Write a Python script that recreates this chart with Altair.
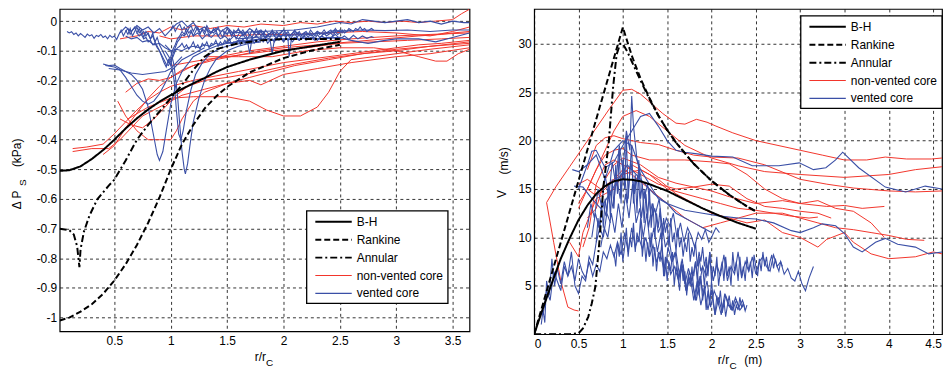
import altair as alt
import pandas as pd

FONT = "Liberation Sans"
RED = "#f2352b"
BLUE = "#3a4fa6"

# ---------------- LEFT PANEL (pressure deficit) ----------------
bh_l_x = [0.015, 0.1, 0.2, 0.3, 0.4, 0.5, 0.6, 0.7, 0.8, 0.9, 1.0, 1.1, 1.2, 1.3, 1.4, 1.5, 1.7, 2.0, 2.25, 2.5]
bh_l_y = [-0.505, -0.503, -0.49, -0.465, -0.435, -0.40, -0.362, -0.328, -0.298, -0.272, -0.25, -0.229, -0.21, -0.192, -0.172, -0.155, -0.13, -0.10, -0.085, -0.07]
rk_l_x = [0.015, 0.1, 0.2, 0.3, 0.4, 0.5, 0.6, 0.7, 0.8, 0.9, 1.0, 1.1, 1.2, 1.3, 1.4, 1.5, 1.7, 2.0, 2.25, 2.5]
rk_l_y = [-1.01, -1.0, -0.98, -0.955, -0.92, -0.875, -0.82, -0.755, -0.68, -0.595, -0.50, -0.415, -0.35, -0.295, -0.255, -0.222, -0.173, -0.125, -0.099, -0.08]
an_l_x = [0.015, 0.1, 0.14, 0.17, 0.19, 0.2, 0.23, 0.28, 0.35, 0.45, 0.5, 0.6, 0.7, 0.8, 0.9, 1.0, 1.1, 1.2, 1.3, 1.4, 1.6, 1.8, 2.0, 2.25, 2.5]
an_l_y = [-0.70, -0.705, -0.72, -0.76, -0.83, -0.77, -0.71, -0.655, -0.60, -0.555, -0.535, -0.47, -0.40, -0.35, -0.305, -0.26, -0.215, -0.165, -0.12, -0.095, -0.075, -0.065, -0.06, -0.06, -0.06]

# non-vented core (red) traces, left panel
lr_x = [
    [0.13, 0.25, 0.4, 0.5, 0.6, 0.7, 0.8, 0.9, 1.0, 1.2, 1.4, 1.6, 1.8, 2.0, 2.2, 2.5, 2.8, 3.0, 3.2, 3.4, 3.65],
    [0.13, 0.3, 0.45, 0.55, 0.65, 0.75, 0.85, 1.0, 1.1, 1.3, 1.5, 1.7, 1.8, 2.0, 2.3, 2.6, 3.0, 3.3, 3.65],
    [0.62, 0.8, 1.0, 1.2, 1.5, 1.7, 1.85, 2.0, 2.15, 2.3, 2.4, 2.5, 2.6, 2.8, 3.0, 3.3, 3.65],
    [0.53, 0.6, 0.7, 0.8, 0.9, 1.0, 1.05, 1.1, 1.2, 1.3, 1.5, 1.7, 1.9, 2.1, 2.4, 2.7, 3.0, 3.3, 3.65],
    [0.4, 0.5, 0.6, 0.7, 0.8, 0.9, 1.0, 1.1, 1.2, 1.4, 1.6, 1.8, 2.0, 2.3, 2.6, 2.9, 3.2, 3.4, 3.5, 3.65],
    [0.6, 0.7, 0.8, 0.9, 1.0, 1.1, 1.2, 1.35, 1.5, 1.7, 2.0, 2.3, 2.6, 3.0, 3.3, 3.65],
    [0.55, 0.7, 0.8, 0.9, 1.0, 1.1, 1.2, 1.35, 1.5, 1.65, 1.8, 2.0, 2.15, 2.3, 2.45, 2.6, 2.75, 2.9, 3.05, 3.2, 3.35, 3.5, 3.58, 3.65],
    [0.9, 1.0, 1.2, 1.5, 1.8, 2.1, 2.4, 2.7, 3.0, 3.3, 3.5, 3.65],
    [1.3, 1.6, 1.9, 2.2, 2.5, 2.8, 3.0, 3.2, 3.35, 3.45, 3.55, 3.65],
    [1.0, 1.3, 1.6, 1.9, 2.2, 2.5, 2.8, 3.1, 3.4, 3.65],
    [0.55, 0.65, 0.75, 0.85, 0.95, 1.05, 1.15, 1.3, 1.5, 1.8, 2.1, 2.4, 2.7, 3.0, 3.3, 3.65],
]
lr_y = [
    [-0.43, -0.425, -0.415, -0.38, -0.34, -0.30, -0.265, -0.24, -0.22, -0.2, -0.185, -0.17, -0.155, -0.14, -0.13, -0.115, -0.10, -0.09, -0.08, -0.075, -0.065],
    [-0.44, -0.43, -0.43, -0.40, -0.36, -0.32, -0.30, -0.27, -0.25, -0.23, -0.21, -0.20, -0.215, -0.18, -0.16, -0.14, -0.12, -0.11, -0.09],
    [-0.33, -0.29, -0.26, -0.255, -0.255, -0.27, -0.30, -0.32, -0.32, -0.29, -0.24, -0.17, -0.13, -0.12, -0.11, -0.095, -0.08],
    [-0.27, -0.32, -0.37, -0.40, -0.40, -0.40, -0.37, -0.33, -0.27, -0.24, -0.21, -0.19, -0.17, -0.15, -0.13, -0.11, -0.095, -0.085, -0.075],
    [-0.45, -0.42, -0.36, -0.31, -0.26, -0.22, -0.19, -0.17, -0.15, -0.13, -0.115, -0.10, -0.09, -0.08, -0.07, -0.06, -0.05, -0.045, -0.04, -0.035],
    [-0.24, -0.21, -0.195, -0.2, -0.19, -0.165, -0.15, -0.13, -0.115, -0.10, -0.085, -0.07, -0.06, -0.05, -0.045, -0.04],
    [-0.06, -0.05, -0.035, -0.04, -0.02, -0.03, -0.015, -0.025, -0.015, -0.02, -0.01, -0.015, -0.005, -0.01, 0.0, -0.005, 0.0, -0.005, 0.0, -0.005, 0.0, 0.005, 0.025, 0.04],
    [-0.05, -0.06, -0.05, -0.05, -0.045, -0.045, -0.04, -0.035, -0.04, -0.05, -0.035, -0.02],
    [-0.12, -0.12, -0.12, -0.1, -0.09, -0.09, -0.1, -0.12, -0.135, -0.135, -0.11, -0.095],
    [-0.15, -0.13, -0.115, -0.1, -0.09, -0.075, -0.07, -0.065, -0.06, -0.055],
    [-0.33, -0.35, -0.36, -0.33, -0.29, -0.25, -0.22, -0.2, -0.19, -0.17, -0.145, -0.125, -0.11, -0.1, -0.085, -0.07],
]

# vented core (blue) traces, left panel
lb_x = [
    [0.08, 0.1, 0.12, 0.14, 0.16, 0.18, 0.2, 0.22, 0.24, 0.26,
     0.28, 0.3, 0.32, 0.34, 0.36, 0.38, 0.4, 0.42, 0.44, 0.46,
     0.48, 0.5, 0.52, 0.54, 0.56, 0.58, 0.6, 0.62, 0.64, 0.66,
     0.68, 0.7, 0.72, 0.74, 0.76, 0.78, 0.8, 0.82, 0.84, 0.86,
     0.88, 0.9, 0.92, 0.94, 0.96, 0.98, 1.0, 1.02, 1.04, 1.06,
     1.08, 1.1, 1.12, 1.14, 1.16, 1.18, 1.2, 1.24, 1.28, 1.32,
     1.36, 1.4, 1.44, 1.48, 1.52, 1.56, 1.6, 1.64, 1.68, 1.7,
     1.72, 1.76, 1.8, 1.84, 1.88, 1.9, 1.92, 1.96, 2.0, 2.04,
     2.05, 2.07, 2.1, 2.14, 2.18, 2.22, 2.26, 2.3, 2.34, 2.38,
     2.42, 2.46, 2.5, 2.54, 2.58, 2.62, 2.66, 2.7, 2.74, 2.78,
     2.8],
    [0.55, 0.6, 0.65, 0.7, 0.75, 0.8, 0.85, 0.9, 0.95, 1.0,
     1.05, 1.1, 1.15, 1.2, 1.25, 1.3, 1.35, 1.4, 1.45, 1.5,
     1.55, 1.6, 1.65, 1.7, 1.75, 1.8, 1.85, 1.9, 1.95, 2.0,
     2.05, 2.1, 2.15, 2.2, 2.25, 2.3, 2.35, 2.4, 2.45, 2.5],
    [0.6, 0.65, 0.7, 0.75, 0.8, 0.85, 0.9, 0.95, 1.0, 1.05, 1.1, 1.15, 1.2, 1.25, 1.3, 1.35, 1.4, 1.45, 1.5, 1.55, 1.6,
     1.7, 1.8, 1.9, 2.0, 2.1, 2.2, 2.3, 2.4, 2.5],
    [0.4, 0.45, 0.5, 0.55, 0.6, 0.65, 0.7, 0.75, 0.8, 0.85, 0.88, 0.9, 0.93, 0.96, 1.0, 1.05, 1.1, 1.15, 1.2, 1.3, 1.4, 1.5, 1.6, 1.7, 1.8],
    [0.42, 0.5, 0.55, 0.6, 0.65, 0.7, 0.75, 0.8, 0.85, 0.9, 0.95, 1.0, 1.1, 1.2, 1.3],
    [0.45, 0.55, 0.65, 0.75, 0.85, 0.95, 1.0, 1.05, 1.1],
    [0.95, 1.0, 1.03, 1.06, 1.08, 1.1, 1.12, 1.13, 1.15, 1.17, 1.2, 1.25, 1.3, 1.35, 1.4, 1.5, 1.6, 1.7, 1.8],
    [0.95, 1.0, 1.03, 1.05, 1.07, 1.09, 1.11, 1.14, 1.18, 1.22, 1.28, 1.35, 1.45, 1.55, 1.7],
    [1.5, 1.8, 2.1, 2.3, 2.5, 2.6, 2.7, 2.8, 2.9, 3.0, 3.1, 3.2, 3.3, 3.4, 3.5, 3.6, 3.65],
    [1.6, 1.9, 2.2, 2.5, 2.7, 2.9, 3.1, 3.3, 3.5, 3.65],
    [2.3, 2.5, 2.6, 2.75, 2.9, 3.0, 3.2, 3.35, 3.5, 3.6, 3.65],
    [0.60, 0.62, 0.64, 0.66, 0.68, 0.70, 0.72, 0.74, 0.76, 0.78,
     0.80, 0.82, 0.84, 0.86, 0.88, 0.90, 0.92, 0.94, 0.96, 0.98,
     1.00, 1.02, 1.04, 1.06, 1.08, 1.10, 1.12, 1.14, 1.16, 1.18,
     1.20, 1.22, 1.24, 1.26, 1.28, 1.30, 1.32, 1.34, 1.36, 1.38,
     1.40, 1.42, 1.44, 1.46, 1.48, 1.50, 1.52, 1.54, 1.56, 1.58,
     1.60, 1.62, 1.64, 1.66, 1.68, 1.70, 1.72, 1.74, 1.76, 1.78,
     1.80, 1.82, 1.84, 1.86, 1.88, 1.90, 1.92, 1.94, 1.96, 1.98,
     2.00, 2.02, 2.04, 2.06, 2.08, 2.10, 2.12, 2.14, 2.16, 2.18,
     2.20, 2.22, 2.24, 2.26, 2.28, 2.30, 2.32, 2.34, 2.36, 2.38,
     2.40, 2.42, 2.44, 2.46, 2.48, 2.50, 2.52, 2.54, 2.56, 2.58,
     2.60],
    [0.70, 0.72, 0.74, 0.76, 0.78, 0.80, 0.82, 0.84, 0.86, 0.88,
     0.90, 0.92, 0.94, 0.96, 0.98, 1.00, 1.02, 1.04, 1.06, 1.08,
     1.10, 1.12, 1.14, 1.16, 1.18, 1.20, 1.22, 1.24, 1.26, 1.28,
     1.30, 1.32, 1.34, 1.36, 1.38, 1.40, 1.42, 1.44, 1.46, 1.48,
     1.50, 1.52, 1.54, 1.56, 1.58, 1.60, 1.62, 1.64, 1.66, 1.68,
     1.70, 1.72, 1.74, 1.76, 1.78, 1.80, 1.82, 1.84, 1.86, 1.88,
     1.90, 1.92, 1.94, 1.96, 1.98, 2.00, 2.02, 2.04, 2.06, 2.08,
     2.10, 2.12, 2.14, 2.16, 2.18, 2.20, 2.22, 2.24, 2.26, 2.28,
     2.30],
    [1.00, 1.02, 1.04, 1.06, 1.08, 1.10, 1.12, 1.14, 1.16, 1.18,
     1.20, 1.22, 1.24, 1.26, 1.28, 1.30, 1.32, 1.34, 1.36, 1.38,
     1.40, 1.42, 1.44, 1.46, 1.48, 1.50, 1.52, 1.54, 1.56, 1.58,
     1.60, 1.62, 1.64, 1.66, 1.68, 1.70, 1.72, 1.74, 1.76, 1.78,
     1.80, 1.82, 1.84, 1.86, 1.88, 1.90, 1.92, 1.94, 1.96, 1.98,
     2.00, 2.02, 2.04, 2.06, 2.08, 2.10, 2.12, 2.14, 2.16, 2.18,
     2.20, 2.22, 2.24, 2.26, 2.28, 2.30, 2.32, 2.34, 2.36, 2.38,
     2.40, 2.42, 2.44, 2.46, 2.48, 2.50, 2.52, 2.54, 2.56, 2.58,
     2.60, 2.62, 2.64, 2.66, 2.68, 2.70, 2.72, 2.74, 2.76, 2.78,
     2.80],
]
lb_y = [
    [-0.035, -0.04, -0.036, -0.045, -0.04, -0.05, -0.042, -0.048, -0.055, -0.044,
     -0.05, -0.046, -0.058, -0.048, -0.052, -0.045, -0.055, -0.05, -0.06, -0.048,
     -0.055, -0.05, -0.062, -0.045, -0.03, -0.05, -0.035, -0.025, -0.045, -0.03,
     -0.02, -0.04, -0.025, -0.045, -0.035, -0.05, -0.04, -0.06, -0.05, -0.07,
     -0.085, -0.1, -0.12, -0.14, -0.155, -0.13, -0.15, -0.11, -0.09, -0.07,
     -0.06, -0.045, -0.05, -0.04, -0.055, -0.035, -0.05, -0.04, -0.06, -0.045,
     -0.055, -0.04, -0.06, -0.05, -0.065, -0.05, -0.06, -0.045, -0.065, -0.11,
     -0.06, -0.05, -0.065, -0.055, -0.06, -0.11, -0.06, -0.05, -0.065, -0.06,
     -0.12, -0.06, -0.055, -0.065, -0.05, -0.06, -0.055, -0.065, -0.05, -0.06,
     -0.055, -0.045, -0.06, -0.05, -0.062, -0.048, -0.06, -0.05, -0.058, -0.052,
     -0.055],
    [-0.04, -0.02, -0.035, -0.015, -0.03, -0.02, -0.04, -0.025, -0.05, -0.03,
     -0.01, 0.0, -0.02, -0.005, -0.03, -0.02, -0.04, -0.025, -0.035, -0.02,
     -0.04, -0.03, -0.045, -0.025, -0.04, -0.03, -0.05, -0.035, -0.045, -0.03,
     -0.05, -0.035, -0.045, -0.04, -0.05, -0.035, -0.045, -0.04, -0.03, -0.035],
    [-0.05, -0.06, -0.055, -0.07, -0.065, -0.08, -0.075, -0.09, -0.1, -0.095, -0.1, -0.09, -0.085, -0.09, -0.08, -0.085, -0.075, -0.08, -0.07, -0.075, -0.065,
     -0.07, -0.06, -0.065, -0.06, -0.062, -0.058, -0.06, -0.055, -0.058],
    [-0.145, -0.15, -0.148, -0.16, -0.17, -0.18, -0.2, -0.23, -0.29, -0.39, -0.45, -0.47, -0.44, -0.37, -0.28, -0.21, -0.17, -0.145, -0.12, -0.1, -0.085, -0.075, -0.07, -0.065, -0.06],
    [-0.15, -0.155, -0.165, -0.19, -0.22, -0.25, -0.27, -0.28, -0.27, -0.245, -0.21, -0.17, -0.13, -0.11, -0.09],
    [-0.16, -0.165, -0.175, -0.18, -0.175, -0.17, -0.16, -0.14, -0.12],
    [-0.08, -0.1, -0.15, -0.25, -0.35, -0.44, -0.5, -0.515, -0.48, -0.42, -0.34, -0.26, -0.2, -0.16, -0.13, -0.1, -0.085, -0.075, -0.07],
    [-0.1, -0.13, -0.2, -0.3, -0.38, -0.40, -0.37, -0.3, -0.23, -0.18, -0.14, -0.11, -0.09, -0.08, -0.07],
    [-0.04, -0.035, -0.03, -0.02, -0.005, -0.01, 0.005, 0.0, -0.005, 0.0, 0.005, -0.005, 0.0, -0.01, 0.0, -0.005, -0.005],
    [-0.06, -0.05, -0.045, -0.035, -0.03, -0.032, -0.03, -0.035, -0.03, -0.03],
    [-0.06, -0.055, -0.065, -0.075, -0.065, -0.06, -0.06, -0.07, -0.055, -0.045, -0.04],
    [-0.03, -0.045, -0.025, -0.05, -0.035, -0.02, -0.04, -0.03, -0.055, -0.035,
     -0.045, -0.06, -0.04, -0.07, -0.055, -0.08, -0.095, -0.11, -0.125, -0.14,
     -0.12, -0.095, -0.08, -0.06, -0.05, -0.035, -0.045, -0.025, -0.04, -0.03,
     -0.05, -0.035, -0.02, -0.04, -0.03, -0.045, -0.025, -0.05, -0.035, -0.04,
     -0.03, -0.05, -0.04, -0.055, -0.035, -0.045, -0.03, -0.05, -0.04, -0.06,
     -0.045, -0.035, -0.05, -0.04, -0.06, -0.045, -0.055, -0.04, -0.05, -0.035,
     -0.05, -0.04, -0.06, -0.045, -0.055, -0.04, -0.05, -0.06, -0.045, -0.055,
     -0.04, -0.055, -0.045, -0.06, -0.05, -0.04, -0.055, -0.045, -0.06, -0.05,
     -0.045, -0.055, -0.04, -0.05, -0.06, -0.045, -0.055, -0.05, -0.04, -0.05,
     -0.045, -0.04, -0.05, -0.035, -0.045, -0.04, -0.03, -0.04, -0.035, -0.03,
     -0.035],
    [-0.04, -0.05, -0.045, -0.06, -0.055, -0.07, -0.065, -0.08, -0.075, -0.09,
     -0.1, -0.115, -0.13, -0.145, -0.15, -0.135, -0.12, -0.1, -0.09, -0.085,
     -0.075, -0.09, -0.08, -0.095, -0.085, -0.07, -0.09, -0.08, -0.095, -0.075,
     -0.085, -0.07, -0.09, -0.075, -0.08, -0.065, -0.085, -0.07, -0.08, -0.065,
     -0.075, -0.06, -0.08, -0.07, -0.075, -0.065, -0.08, -0.06, -0.075, -0.065,
     -0.07, -0.06, -0.075, -0.065, -0.07, -0.055, -0.07, -0.06, -0.075, -0.065,
     -0.06, -0.07, -0.055, -0.065, -0.06, -0.07, -0.055, -0.065, -0.06, -0.07,
     -0.06, -0.055, -0.065, -0.06, -0.055, -0.065, -0.06, -0.055, -0.06, -0.065,
     -0.06],
    [-0.03, -0.015, -0.035, -0.02, -0.01, -0.03, -0.02, -0.04, -0.025, -0.015,
     -0.035, -0.02, -0.03, -0.045, -0.025, -0.035, -0.015, -0.03, -0.04, -0.025,
     -0.035, -0.02, -0.04, -0.03, -0.045, -0.025, -0.035, -0.05, -0.03, -0.04,
     -0.025, -0.04, -0.03, -0.045, -0.035, -0.05, -0.03, -0.04, -0.025, -0.045,
     -0.035, -0.05, -0.03, -0.04, -0.045, -0.03, -0.05, -0.035, -0.045, -0.04,
     -0.03, -0.045, -0.035, -0.05, -0.04, -0.03, -0.045, -0.035, -0.05, -0.04,
     -0.035, -0.045, -0.03, -0.04, -0.05, -0.035, -0.045, -0.04, -0.03, -0.04,
     -0.035, -0.03, -0.04, -0.025, -0.035, -0.03, -0.04, -0.03, -0.035, -0.025,
     -0.03, -0.035, -0.025, -0.03, -0.02, -0.03, -0.025, -0.035, -0.03, -0.025,
     -0.03],
]

# ---------------- RIGHT PANEL (velocity) ----------------
bh_r_x = [0, 0.1, 0.2, 0.3, 0.4, 0.5, 0.6, 0.7, 0.8, 0.9, 1.0, 1.1, 1.2, 1.3, 1.5, 1.7, 1.9, 2.1, 2.3, 2.5]
bh_r_y = [0, 2.7, 5.3, 7.8, 9.9, 11.8, 13.3, 14.5, 15.3, 15.8, 16.0, 15.95, 15.8, 15.5, 14.8, 13.9, 13.0, 12.2, 11.5, 10.9]
rk_r_x = [0, 0.25, 0.5, 0.75, 1.0, 1.1, 1.2, 1.3, 1.4, 1.5, 1.6, 1.8, 2.0, 2.2, 2.4, 2.5]
rk_r_y = [0, 7.9, 15.85, 23.8, 31.7, 28.8, 26.4, 24.4, 22.6, 21.1, 19.8, 17.6, 15.85, 14.4, 13.2, 12.7]
an_r_x = [0, 0.2, 0.4, 0.5, 0.55, 0.61, 0.65, 0.69, 0.74, 0.78, 0.84, 0.89, 0.93, 0.97, 1.0, 1.05, 1.1, 1.2, 1.3, 1.4, 1.5, 1.6, 1.8, 2.0, 2.2, 2.4, 2.5]
an_r_y = [0, 0, 0, 0.1, 0.6, 1.8, 3.2, 4.9, 10.0, 15.2, 19.7, 25.5, 28.9, 30.0, 30.0, 29.2, 28.2, 26.2, 24.3, 22.6, 21.1, 19.8, 17.6, 15.85, 14.4, 13.2, 12.7]

rr_x = [
    [0.5, 0.45, 0.38, 0.3, 0.22, 0.14, 0.25, 0.4, 0.55, 0.7, 0.85, 1.0, 1.1, 1.2, 1.3, 1.45, 1.6, 1.7, 1.83, 1.95,
     2.05, 2.24, 2.5, 2.75, 3.0, 3.25, 3.5, 3.75, 3.96, 4.2, 4.48, 4.6],
    [0.5, 0.6, 0.75, 0.9, 1.0, 1.15, 1.3, 1.5, 1.7, 2.0, 2.3, 2.6, 3.0, 3.5, 4.0, 4.3, 4.6],
    [0.6, 0.7, 0.8, 0.9, 1.0, 1.2, 1.4, 1.6, 1.8, 2.0, 2.3, 2.6, 3.0, 3.3, 3.6, 4.0, 4.3, 4.6],
    [0.6, 0.7, 0.8, 0.9, 1.0, 1.1, 1.3, 1.5, 1.7, 2.0, 2.2, 2.4, 2.6, 2.8, 3.0, 3.3, 3.5, 3.7, 3.95],
    [0.55, 0.62, 0.7, 0.8, 0.9, 1.0, 1.1, 1.2, 1.4, 1.6, 1.8, 2.0, 2.2, 2.4, 2.6, 2.8, 3.0, 3.2, 3.35],
    [0.6, 0.7, 0.8, 0.9, 1.0, 1.2, 1.4, 1.6, 1.8, 2.0, 2.2, 2.5, 2.8, 3.0, 3.2, 3.4, 3.6, 3.8, 3.9, 3.95],
    [0.5, 0.6, 0.75, 0.9, 1.0, 1.1, 1.3, 1.5, 1.7, 1.9, 2.1, 2.3, 2.5, 2.8, 3.0, 3.2, 3.4, 3.6, 3.8, 4.0, 4.2, 4.4],
    [0.4, 0.5, 0.55, 0.7, 0.8, 0.9, 1.0, 1.2, 1.4, 1.6, 1.8, 2.0, 2.2, 2.4, 2.6, 2.8, 3.0, 3.2, 3.3, 3.5, 3.6, 3.8, 4.0, 4.3, 4.5, 4.6],
    [0.5, 0.6, 0.7, 0.8, 0.9, 1.0, 1.1, 1.3, 1.5, 1.7, 1.9, 2.1, 2.3, 2.5, 2.7, 2.9, 3.1, 3.2],
]
rr_y = [
    [2.4, 2.5, 2.8, 5.5, 9.5, 13.6, 15.3, 17.3, 19.3, 21.3, 23.3, 25.2, 25.3, 24.8, 24.0, 22.8, 21.8, 21.7, 22.2, 21.9,
     21.5, 20.8, 20.0, 19.5, 19.0, 18.5, 18.0, 18.0, 18.3, 18.1, 18.1, 18.2],
    [13, 15, 18, 21, 22.5, 23.1, 22.5, 21, 19.5, 18.2, 17.4, 16.8, 16.5, 16.2, 16.5, 17.0, 17.3],
    [17, 19.5, 20.3, 20.5, 20.2, 19.8, 19.6, 19.0, 18.5, 18.3, 18.2, 17.5, 16.0, 15.5, 15.1, 14.8, 14.7, 14.8],
    [15, 17, 18.5, 19, 19.2, 18.5, 18.0, 18.0, 18.0, 17.8, 17.6, 16.5, 15, 14, 13.5, 13.2, 13.3, 13.0, 13.2],
    [9.0, 11, 15.5, 17.5, 18, 17.5, 17, 16.5, 15.5, 15.0, 15.2, 15.5, 15.3, 14, 13.2, 13, 12.7, 12.5, 12.0],
    [12, 13, 16, 17.5, 18.2, 17.5, 16.2, 15.6, 15.2, 14.8, 14.2, 13.5, 13.8, 13.5, 13.8, 13.0, 12.7, 11.5, 10.5, 10.0],
    [15.5, 16, 15, 16, 17, 16.5, 15.0, 13.5, 12.0, 11.0, 11.5, 12.0, 12.5, 12.5, 12.0, 11.5, 11.0, 10.8, 10.5, 10.2, 9.8, 9.7],
    [9.5, 8.0, 10.5, 14, 14.5, 15, 16.5, 17, 16, 14.5, 13.5, 12.5, 12.0, 11.5, 11.8, 10.5, 10.0, 9.0, 9.8, 10.5, 9.5, 8.3, 7.8, 8.0, 8.5, 8.3],
    [13.5, 15, 14.3, 15, 16, 16.5, 17.5, 16.5, 15, 14.5, 14.0, 13.5, 13.0, 12.8, 12.5, 12.2, 12.0, 12.1],
]

rb_x = [
    [0.08, 0.1, 0.12, 0.14, 0.17, 0.2, 0.23, 0.26, 0.3, 0.34,
     0.38, 0.42, 0.46, 0.5, 0.54, 0.58, 0.62, 0.66, 0.7, 0.74,
     0.78, 0.82, 0.86, 0.9, 0.94, 0.98, 1.02, 1.06, 1.1, 1.14,
     1.18, 1.22, 1.26, 1.3, 1.34, 1.38, 1.42, 1.46, 1.5, 1.54,
     1.58, 1.62, 1.66, 1.7, 1.74, 1.78, 1.82, 1.86, 1.9, 1.94,
     1.98, 2.02, 2.06, 2.1, 2.14, 2.18, 2.22, 2.26, 2.3, 2.34,
     2.38, 2.42, 2.46, 2.5, 2.54, 2.58, 2.62, 2.66, 2.7, 2.74,
     2.78, 2.82, 2.86, 2.9, 2.94, 2.98, 3.02, 3.06, 3.1, 3.15],
    [0.60, 0.64, 0.68, 0.72, 0.76, 0.80, 0.84, 0.88, 0.92, 0.96,
     1.00, 1.04, 1.08, 1.10, 1.12, 1.16, 1.20, 1.24, 1.28, 1.32,
     1.36, 1.40, 1.44, 1.48, 1.52, 1.56, 1.60, 1.64, 1.68, 1.72,
     1.76, 1.80, 1.84, 1.88, 1.92, 1.96, 2.00, 2.04, 2.08, 2.12,
     2.16, 2.20, 2.24, 2.28, 2.32, 2.36],
    [0.65, 0.69, 0.73, 0.77, 0.81, 0.85, 0.89, 0.93, 0.97, 1.01,
     1.05, 1.09, 1.13, 1.17, 1.21, 1.25, 1.29, 1.33, 1.37, 1.41,
     1.45, 1.49, 1.53, 1.57, 1.61, 1.65, 1.69, 1.73, 1.77, 1.81,
     1.85, 1.89, 1.93, 1.97, 2.01, 2.05, 2.09],
    [0.75, 0.79, 0.83, 0.87, 0.91, 0.95, 0.99, 1.03, 1.07, 1.11,
     1.15, 1.19, 1.23, 1.27, 1.31, 1.35, 1.39, 1.43, 1.47, 1.51,
     1.55, 1.59, 1.63, 1.67, 1.71, 1.75, 1.79, 1.83, 1.87, 1.91,
     1.95, 1.99, 2.03, 2.07, 2.11, 2.15, 2.19, 2.23, 2.27, 2.31,
     2.35, 2.38],
    [0.1, 0.14, 0.18, 0.22, 0.26, 0.3, 0.34, 0.38, 0.42, 0.46, 0.5, 0.54, 0.58, 0.62, 0.66, 0.7, 0.74, 0.78, 0.82, 0.86],
    [0.43, 0.5, 0.6, 0.65, 0.7, 0.8, 0.9, 1.0, 1.1, 1.2,
     1.3, 1.4, 1.5, 1.6, 1.7, 1.86, 2.0, 2.24, 2.46, 2.76,
     2.99, 3.15, 3.29, 3.4, 3.48, 3.66, 3.96, 4.19, 4.41, 4.6],
    [0.45, 0.55, 0.65, 0.75, 0.85, 0.95, 1.05, 1.15, 1.25, 1.35,
     1.5, 1.7, 1.9, 2.1, 2.3, 2.5, 2.7, 2.9, 3.0, 3.15,
     3.25, 3.4, 3.5, 3.6, 3.7, 3.85, 3.96, 4.1, 4.3, 4.45, 4.6],
    [0.5, 0.6, 0.7, 0.8, 0.9, 1.0, 1.1, 1.2, 1.3, 1.4, 1.5, 1.6, 1.7, 1.8, 1.9, 2.0],
    [0.70, 0.72, 0.74, 0.76, 0.78, 0.80, 0.82, 0.84, 0.86, 0.88,
     0.90, 0.92, 0.94, 0.96, 0.98, 1.00, 1.02, 1.04, 1.06, 1.08,
     1.10, 1.12, 1.14, 1.16, 1.18, 1.20, 1.22, 1.24, 1.26, 1.28,
     1.30, 1.32, 1.34, 1.36, 1.38, 1.40, 1.42, 1.44, 1.46, 1.48,
     1.50, 1.52, 1.54, 1.56, 1.58, 1.60, 1.62, 1.64, 1.66, 1.68,
     1.70, 1.72, 1.74, 1.76, 1.78, 1.80, 1.82, 1.84, 1.86, 1.88,
     1.90, 1.92, 1.94, 1.96, 1.98, 2.00],
    [0.90, 0.92, 0.94, 0.96, 0.98, 1.00, 1.02, 1.04, 1.06, 1.08,
     1.10, 1.12, 1.14, 1.16, 1.18, 1.20, 1.22, 1.24, 1.26, 1.28,
     1.30, 1.32, 1.34, 1.36, 1.38, 1.40, 1.42, 1.44, 1.46, 1.48,
     1.50, 1.52, 1.54, 1.56, 1.58, 1.60, 1.62, 1.64, 1.66, 1.68,
     1.70, 1.72, 1.74, 1.76, 1.78, 1.80, 1.82, 1.84, 1.86, 1.88,
     1.90, 1.92, 1.94, 1.96, 1.98, 2.00, 2.02, 2.04, 2.06, 2.08,
     2.10, 2.12, 2.14, 2.16, 2.18, 2.20, 2.22, 2.24, 2.26, 2.28,
     2.30, 2.32, 2.34, 2.36, 2.38, 2.40],
    [1.80, 1.82, 1.84, 1.86, 1.88, 1.90, 1.92, 1.94, 1.96, 1.98,
     2.00, 2.02, 2.04, 2.06, 2.08, 2.10, 2.12, 2.14, 2.16, 2.18,
     2.20, 2.22, 2.24, 2.26, 2.28, 2.30, 2.32, 2.34, 2.36, 2.38,
     2.40, 2.42, 2.44, 2.46, 2.48, 2.50, 2.52, 2.54, 2.56, 2.58,
     2.60, 2.62, 2.64, 2.66, 2.68, 2.70, 2.72, 2.74, 2.76, 2.78,
     2.80],
]
rb_y = [
    [1.0, 2.5, 1.2, 5.5, 4.0, 7.8, 5.0, 6.8, 5.2, 7.5,
     6.0, 7.0, 5.5, 7.8, 6.5, 5.8, 7.5, 6.0, 7.2, 6.5,
     8.5, 7.8, 9.2, 8.0, 9.5, 8.2, 10.5, 8.5, 11.0, 9.0,
     10.0, 8.8, 10.0, 8.0, 9.2, 7.5, 8.5, 6.8, 7.8, 6.2,
     7.0, 5.8, 7.2, 5.2, 6.8, 5.5, 7.5, 5.0, 7.0, 6.0,
     7.8, 5.5, 7.2, 6.0, 8.2, 5.5, 7.0, 6.2, 8.5, 5.8,
     7.5, 6.5, 8.0, 6.2, 7.5, 8.0, 7.0, 6.5, 8.2, 7.0,
     7.5, 6.2, 6.8, 5.8, 5.5, 6.5, 5.2, 4.5, 5.8, 7.0],
    [11.0, 13.5, 12.0, 15.0, 13.2, 16.5, 14.0, 17.8, 15.5, 19.5,
     17.0, 21.0, 19.0, 24.6, 21.5, 18.0, 16.5, 14.0, 15.5, 12.0,
     13.0, 10.5, 11.5, 9.0, 10.0, 7.5, 8.5, 6.0, 7.2, 4.5,
     6.0, 3.5, 5.5, 3.0, 4.8, 2.5, 4.5, 2.0, 3.8, 2.2,
     4.0, 3.0, 2.5, 3.5, 2.5, 3.0],
    [10.0, 12.5, 11.0, 13.8, 12.2, 15.0, 13.0, 16.2, 14.0, 17.5,
     13.5, 18.0, 14.5, 16.5, 12.0, 15.0, 11.0, 13.5, 12.5, 14.0,
     10.5, 12.0, 11.2, 12.5, 10.0, 11.5, 9.5, 11.0, 10.2, 9.0,
     10.5, 9.8, 10.8, 9.5, 10.2, 11.0, 10.5],
    [9.0, 11.0, 10.0, 12.5, 10.5, 13.5, 11.0, 14.5, 12.0, 15.5,
     11.5, 13.0, 10.0, 12.5, 9.0, 11.0, 8.5, 10.5, 6.0, 9.0,
     7.5, 8.5, 5.5, 7.8, 4.5, 6.5, 5.0, 3.5, 6.0, 4.0,
     5.5, 2.8, 4.5, 3.5, 2.0, 4.2, 3.0, 2.5, 3.8, 2.8,
     3.5, 2.5],
    [2.0, 4.5, 3.5, 6.5, 5.5, 4.5, 7.0, 6.0, 8.5, 5.0, 4.2, 6.0, 5.5, 8.0, 7.2, 9.5, 11.0, 10.0, 12.5, 11.5],
    [17.0, 16.8, 17.5, 18.9, 19.0, 17.2, 17.8, 19.5, 21.0, 22.5,
     22.8, 21.5, 20.0, 19.0, 18.8, 18.6, 18.4, 18.3, 17.4, 17.4,
     17.7, 17.0, 17.2, 18.0, 18.8, 17.2, 15.2, 14.7, 15.3, 15.0],
    [15.3, 15.2, 14.0, 13.0, 14.5, 16.0, 17.5, 16.5, 15.5, 14.5,
     13.5, 12.8, 12.5, 12.2, 12.0, 11.9, 11.5, 10.7, 10.5, 11.0,
     11.4, 11.2, 10.4, 9.0, 8.5, 9.5, 9.9, 9.3, 9.0, 8.3, 8.5],
    [15.0, 17.5, 18.5, 16.0, 19.0, 20.0, 19.5, 17.0, 15.5, 14.0, 13.5, 12.5, 12.0, 11.5, 11.0, 10.5],
    [9.5, 12.0, 10.5, 13.5, 11.0, 14.0, 12.5, 15.5, 12.0, 16.0,
     13.0, 17.5, 14.5, 19.0, 13.5, 18.0, 15.0, 20.5, 14.0, 17.0,
     19.5, 13.5, 16.5, 12.5, 18.0, 14.0, 15.5, 11.5, 14.5, 12.0,
     15.0, 11.0, 13.5, 10.0, 12.5, 11.0, 13.0, 9.5, 12.0, 10.5,
     11.5, 9.0, 12.0, 9.5, 10.5, 8.5, 11.0, 9.0, 10.0, 8.0,
     9.5, 8.5, 10.5, 7.5, 9.0, 8.0, 9.5, 7.0, 8.5, 7.5,
     9.0, 7.0, 8.0, 6.5, 8.5, 7.5],
    [8.5, 7.0, 9.5, 8.0, 10.5, 7.5, 9.0, 11.0, 8.0, 10.0,
     9.0, 11.5, 8.5, 10.5, 9.5, 12.0, 8.0, 10.0, 7.5, 9.5,
     8.0, 10.5, 7.0, 9.0, 6.5, 8.5, 7.5, 9.5, 6.0, 8.0,
     5.5, 7.5, 6.5, 8.5, 5.0, 7.0, 6.0, 4.5, 7.5, 5.5,
     6.5, 4.0, 6.0, 5.0, 7.0, 4.5, 3.5, 5.5, 4.0, 6.0,
     3.5, 5.0, 2.5, 4.5, 3.0, 5.5, 3.5, 2.0, 4.0, 3.0,
     4.5, 2.5, 3.5, 1.8, 3.0, 4.0, 2.5, 3.5, 2.0, 3.0,
     2.5, 3.8, 2.8, 3.2, 2.4, 3.0],
    [6.0, 7.5, 5.5, 8.0, 6.5, 7.0, 5.0, 7.5, 6.0, 8.5,
     5.5, 7.0, 6.0, 8.0, 5.0, 6.5, 7.5, 5.5, 8.0, 6.0,
     7.0, 5.0, 8.5, 6.5, 7.5, 5.5, 8.0, 6.0, 7.0, 5.5,
     8.0, 6.5, 7.5, 5.8, 8.2, 7.0, 6.0, 7.8, 6.5, 8.5,
     7.0, 8.0, 6.5, 7.5, 8.2, 6.8, 7.8, 7.0, 6.5, 7.5,
     7.0],
]

# axis ticks
L_XTICKS = [0.5, 1, 1.5, 2, 2.5, 3, 3.5]
L_YTICKS = [-1, -0.9, -0.8, -0.7, -0.6, -0.5, -0.4, -0.3, -0.2, -0.1, 0]
R_XTICKS = [0, 0.5, 1, 1.5, 2, 2.5, 3, 3.5, 4, 4.5]
R_YTICKS = [5, 10, 15, 20, 25, 30]

# legend
LEG_LABELS = ["B-H", "Rankine", "Annular", "non-vented core", "vented core"]
LEG_COLORS = ["black", "black", "black", RED, BLUE]
LEG_DASHES = [[1, 0], [6, 3], [7, 3, 2, 3], [1, 0], [1, 0]]
LEG_WIDTHS = [2, 2, 2, 1.1, 1.2]


def traces_df(xs_list, ys_list, name):
    rows = []
    for k, (xs, ys) in enumerate(zip(xs_list, ys_list)):
        for i, (a, b) in enumerate(zip(xs, ys)):
            rows.append({"x": a, "y": b, "i": i, "trace": f"{name}{k}"})
    return pd.DataFrame(rows)


one = pd.DataFrame({"k": [0]})


def txt(s, x, y, size=12, angle=0):
    return alt.Chart(one).mark_text(
        text=s, font=FONT, fontSize=size, angle=angle, align="center",
        baseline="middle", color="black"
    ).encode(x=alt.value(x), y=alt.value(y))


def legend_layers(bx, by, bw, bh):
    out = [alt.Chart(one).mark_rect(fill="white", stroke="black", strokeWidth=1.3).encode(
        x=alt.value(bx), x2=alt.value(bx + bw), y=alt.value(by), y2=alt.value(by + bh))]
    for i, (lab, col, dash, w) in enumerate(zip(LEG_LABELS, LEG_COLORS, LEG_DASHES, LEG_WIDTHS)):
        yy = by + 11 + 18 * i
        out.append(alt.Chart(one).mark_rule(stroke=col, strokeDash=dash, strokeWidth=w).encode(
            x=alt.value(bx + 8.7), x2=alt.value(bx + 45.3), y=alt.value(yy)))
        out.append(alt.Chart(one).mark_text(text=lab, font=FONT, fontSize=12, align="left",
                                            baseline="middle", color="black").encode(
            x=alt.value(bx + 50.3), y=alt.value(yy)))
    return out


NEG = "replace(format(datum.value, '~g'), '\u2212', '-')"


def panel(xenc, yenc, red_df, blue_df, theory, w, h, legend_pos, extra):
    layers = [
        alt.Chart(red_df).mark_line(color=RED, strokeWidth=1, clip=True).encode(
            x=xenc, y=yenc, detail="trace:N", order="i:Q"),
        alt.Chart(blue_df).mark_line(color=BLUE, strokeWidth=1.1, clip=True).encode(
            x=xenc, y=yenc, detail="trace:N", order="i:Q"),
    ]
    for (xs, ys), dash in zip(theory, LEG_DASHES[:3]):
        df = pd.DataFrame({"x": xs, "y": ys, "i": list(range(len(xs)))})
        layers.append(alt.Chart(df).mark_line(color="black", strokeWidth=2, strokeDash=dash, clip=True).encode(
            x=xenc, y=yenc, order="i:Q"))
    layers += legend_layers(*legend_pos)
    layers += extra
    return alt.layer(*layers).properties(width=w, height=h)


# left panel encodings
xl = alt.X("x:Q", title=None, scale=alt.Scale(domain=[0.015, 3.65], nice=False, zero=False),
           axis=alt.Axis(values=L_XTICKS, labelExpr=NEG))
yl = alt.Y("y:Q", title=None, scale=alt.Scale(domain=[-1.046, 0.041], nice=False, zero=False),
           axis=alt.Axis(values=L_YTICKS, labelExpr=NEG))
left = panel(
    xl, yl, traces_df(lr_x, lr_y, "r"), traces_df(lb_x, lb_y, "b"),
    [(bh_l_x, bh_l_y), (rk_l_x, rk_l_y), (an_l_x, an_l_y)],
    412, 324, (248.3, 203, 142, 93),
    [
        alt.Chart(one).mark_rule(strokeOpacity=0).encode(x=alt.value(0), y=alt.value(-3), y2=alt.value(0)),
        txt("r/r", 201.8, 350.3),
        txt("C", 211, 355.7, size=10),
        txt("\u0394 P", -42.7, 192, angle=270),
        txt("S", -37.2, 174.7, size=10, angle=270),
        txt("(kPa)", -42.7, 144.7, angle=270),
    ],
)

# right panel encodings
xr = alt.X("x:Q", title=None, scale=alt.Scale(domain=[0, 4.6], nice=False, zero=False),
           axis=alt.Axis(values=R_XTICKS, labelExpr=NEG))
yr = alt.Y("y:Q", title=None, scale=alt.Scale(domain=[0, 33.6], nice=False, zero=False),
           axis=alt.Axis(values=R_YTICKS))
right = panel(
    xr, yr, traces_df(rr_x, rr_y, "r"), traces_df(rb_x, rb_y, "b"),
    [(bh_r_x, bh_r_y), (rk_r_x, rk_r_y), (an_r_x, an_r_y)],
    410, 327, (268, 7, 142, 93),
    [
        txt("r/r", 190.3, 353.3),
        txt("C", 200, 359.3, size=10),
        txt("(m)", 220.3, 353.3),
        txt("V", -32, 186, angle=270),
        txt("(m/s)", -30.4, 152.7, angle=270),
    ],
)

chart = alt.hconcat(left, right, spacing=25).properties(
    padding={"left": 10, "top": 4, "right": 0, "bottom": 0},
    background="white",
).configure_axis(
    grid=True, gridColor="#000", gridDash=[3, 3], gridOpacity=0.8, gridWidth=1,
    domain=False, ticks=False, tickSize=0,
    labelFont=FONT, labelFontSize=12, labelColor="#000",
).configure_axisX(labelPadding=4).configure_axisY(labelPadding=3).configure_view(
    stroke="#000", strokeWidth=1.2
)

chart.save("out.html", embed_options={"renderer": "svg", "actions": False})
